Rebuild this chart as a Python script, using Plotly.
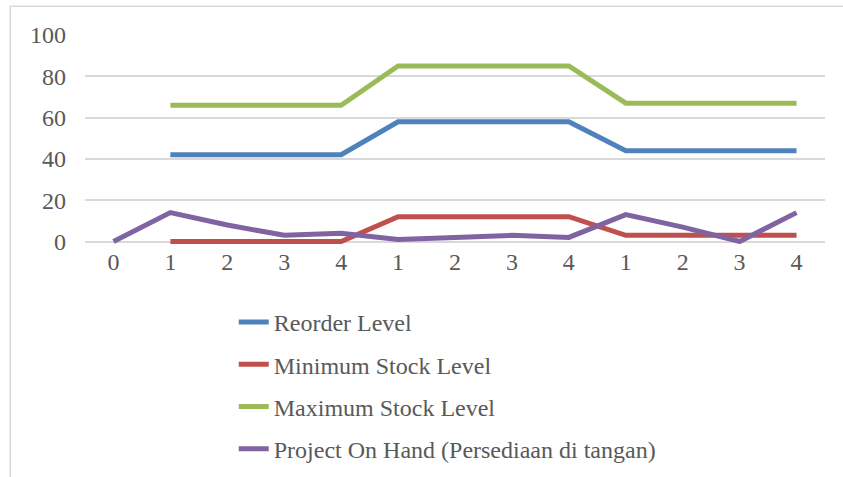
import plotly.graph_objects as go

categories = ["0", "1", "2", "3", "4", "1", "2", "3", "4", "1", "2", "3", "4"]
reorder_level = [None, 42, 42, 42, 42, 58, 58, 58, 58, 44, 44, 44, 44]
minimum_stock = [None, 0, 0, 0, 0, 12, 12, 12, 12, 3, 3, 3, 3]
maximum_stock = [None, 66, 66, 66, 66, 85, 85, 85, 85, 67, 67, 67, 67]
on_hand = [0, 14, 8, 3, 4, 1, 2, 3, 2, 13, 7, 0, 14]

series_names = ["Reorder Level", "Minimum Stock Level", "Maximum Stock Level",
                "Project On Hand (Persediaan di tangan)"]
series_values = [reorder_level, minimum_stock, maximum_stock, on_hand]
series_colors = ["#4f81bd", "#c0504d", "#9bbb59", "#8064a2"]

x = list(range(len(categories)))

fig = go.Figure()
for i, (name, vals, col) in enumerate(zip(series_names, series_values, series_colors)):
    fig.add_trace(go.Scatter(
        x=x, y=vals, name=name, mode="lines",
        line=dict(color=col, width=5, shape="linear"),
        legendgroup=f"g{i}", connectgaps=False, cliponaxis=False,
    ))

serif = "Liberation Serif"
fsize = 24
font = dict(family=serif, size=fsize, color="#595959")

fig.update_layout(
    width=843, height=477,
    margin=dict(l=85, r=18, t=35, b=232.5, autoexpand=False),
    paper_bgcolor="white", plot_bgcolor="white",
    font=font,
    showlegend=True,
    legend=dict(
        x=0.201, y=-0.268, xanchor="left", yanchor="top",
        orientation="v", tracegroupgap=8,
        font=dict(family=serif, size=fsize, color="#595959"),
        bgcolor="rgba(0,0,0,0)",
    ),
    xaxis=dict(
        tickmode="array", tickvals=x, ticktext=categories,
        range=[-0.5, len(categories) - 0.5],
        showgrid=False, zeroline=False, showline=False, ticks="",
        ticklabelstandoff=1,
        tickfont=dict(family=serif, size=fsize, color="#595959"),
    ),
    yaxis=dict(
        range=[-1.2, 100], tickvals=[0, 20, 40, 60, 80, 100],
        showgrid=True, gridcolor="#d9d9d9", gridwidth=1.5,
        zeroline=False, showline=False, ticks="",
        ticklabelstandoff=18,
        tickfont=dict(family=serif, size=fsize, color="#595959"),
    ),
    shapes=[dict(
        type="rect", xref="paper", yref="paper",
        x0=-0.101, x1=1.2, y0=-1.3, y1=1.138,
        line=dict(color="#d9d9d9", width=1.5), fillcolor="rgba(0,0,0,0)",
        layer="below",
    )],
)

fig.write_html("out.html")
